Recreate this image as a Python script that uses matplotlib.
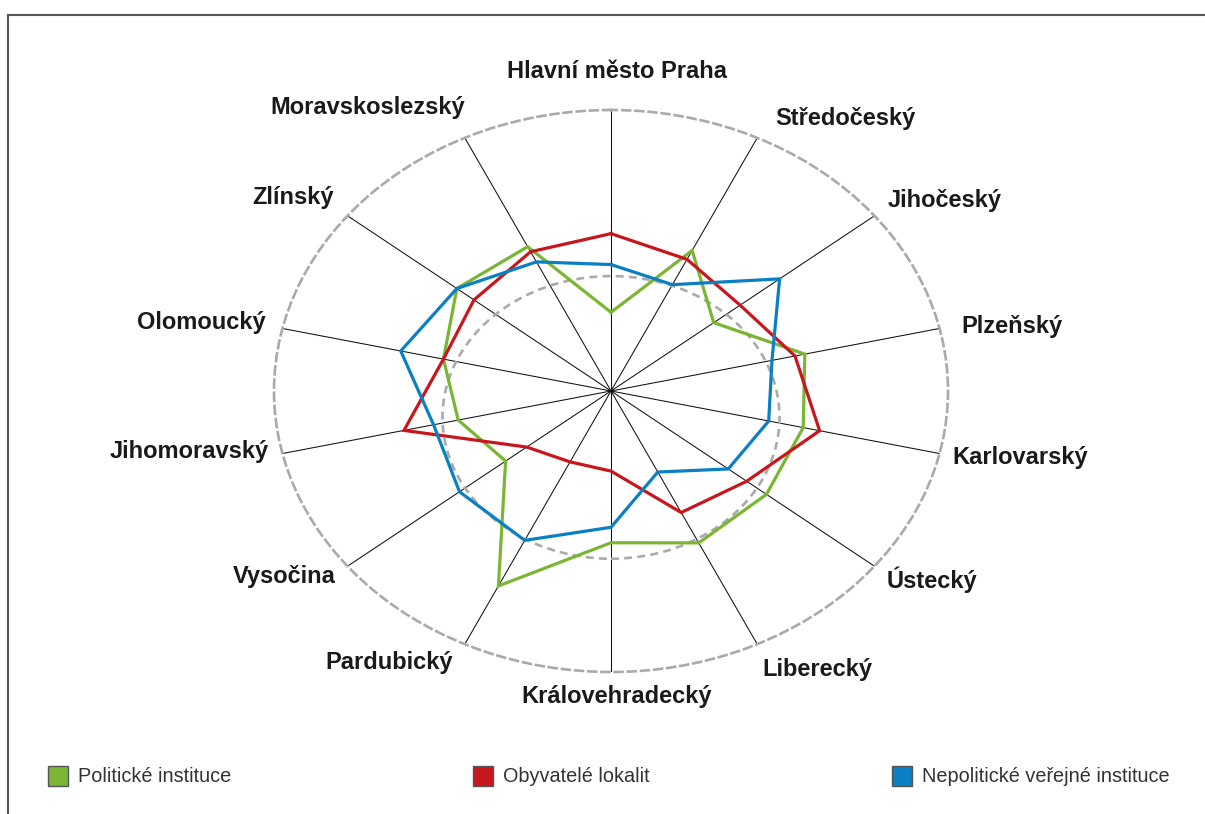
import numpy as np
import matplotlib
matplotlib.use("Agg")
import matplotlib.pyplot as plt
from matplotlib.patches import Ellipse, Rectangle
from matplotlib.lines import Line2D

categories = ["Hlavní město Praha", "Středočeský", "Jihočeský", "Plzeňský",
              "Karlovarský", "Ústecký", "Liberecký", "Královehradecký",
              "Pardubický", "Vysočina", "Jihomoravský", "Olomoucký",
              "Zlínský", "Moravskoslezský"]

politicke = [0.28, 0.555, 0.39, 0.59, 0.585, 0.59, 0.60, 0.54, 0.77, 0.40,
             0.465, 0.51, 0.585, 0.57]
obyvatele = [0.56, 0.52, 0.49, 0.56, 0.635, 0.515, 0.48, 0.285, 0.28, 0.32,
             0.63, 0.51, 0.52, 0.55]
nepoliticke = [0.45, 0.42, 0.64, 0.49, 0.48, 0.445, 0.32, 0.485, 0.59, 0.575,
               0.54, 0.64, 0.585, 0.51]

series_names = ["Politické instituce", "Obyvatelé lokalit",
                "Nepolitické veřejné instituce"]
series_values = [politicke, obyvatele, nepoliticke]
series_colors = ["#7ab534", "#c8161d", "#0a7fc4"]

plt.rcParams['font.family'] = ['Liberation Sans', 'DejaVu Sans']

W, H = 1205, 814
fig = plt.figure(figsize=(W / 100, H / 100), dpi=100)

cx, cy, a, b = 611, 391, 337, 281
ax = fig.add_axes([(cx - a) / W, (H - cy - b) / H, 2 * a / W, 2 * b / H],
                  projection='polar')
ax.set_aspect('auto')
ax.set_theta_zero_location('N')
ax.set_theta_direction(-1)

n = len(categories)
theta = np.arange(n) * 2 * np.pi / n

for vals, col in zip(series_values, series_colors):
    v = list(vals) + [vals[0]]
    t = list(theta) + [theta[0]]
    ax.plot(t, v, color=col, lw=2.3, solid_joinstyle='miter', zorder=3)

ax.set_ylim(0, 1)
ax.set_yticks([])
ax.set_xticks(theta)
ax.set_xticklabels([])
ax.xaxis.grid(True, color='#111111', lw=0.75)
ax.yaxis.grid(False)
ax.spines['polar'].set(color='#aaaaaa', linestyle=(0, (3, 2)), linewidth=1.9)
ax.patch.set_alpha(0)

# inner dashed ring (slightly offset as in the reference)
ax.add_patch(Ellipse((0.5, 0.5 - 0.047), 0.5, 0.503, transform=ax.transAxes,
                     fill=False, ec='#aaaaaa', ls=(0, (3, 2)), lw=1.9,
                     zorder=2, clip_on=False))

# category labels: pixel offsets from the end of each spoke
label_dx = [6, 18, 13, 22, 13, 12, 5, 6, -12, -12, -14, -17, -14, 0]
label_dy = [38, 19, 15, 2, -4, -14, -25, -25, -18, -10, 2, 6, 18, 30]
for th, lab, ox, oy in zip(theta, categories, label_dx, label_dy):
    s = np.sin(th)
    if abs(s) < 1e-6:
        ha = 'center'
    elif s > 0:
        ha = 'left'
    else:
        ha = 'right'
    ax.annotate(lab, xy=(th, 1.0), xytext=(ox, oy), textcoords='offset pixels',
                ha=ha, va='center', fontsize=17, fontweight='bold',
                color='#1a1a1a', annotation_clip=False)

# frame
fig.add_artist(Line2D([8 / W, 1.0], [1 - 15 / H, 1 - 15 / H], color='#555555',
                      lw=1.5, transform=fig.transFigure))
fig.add_artist(Line2D([8 / W, 8 / W], [0, 1 - 15 / H], color='#555555',
                      lw=1.5, transform=fig.transFigure))

# legend
leg_x = [48, 473, 892]
leg_y = 776
for x0, name, col in zip(leg_x, series_names, series_colors):
    fig.add_artist(Rectangle((x0 / W, (H - leg_y - 10) / H), 20 / W, 20 / H,
                             transform=fig.transFigure, fc=col, ec='#555555',
                             lw=1.0))
    fig.text((x0 + 30) / W, (H - leg_y) / H, name, ha='left', va='center',
             fontsize=14.3, color='#333333',
             family=['Liberation Sans Narrow', 'Liberation Sans', 'DejaVu Sans'])

fig.savefig("out.png", dpi=100)
